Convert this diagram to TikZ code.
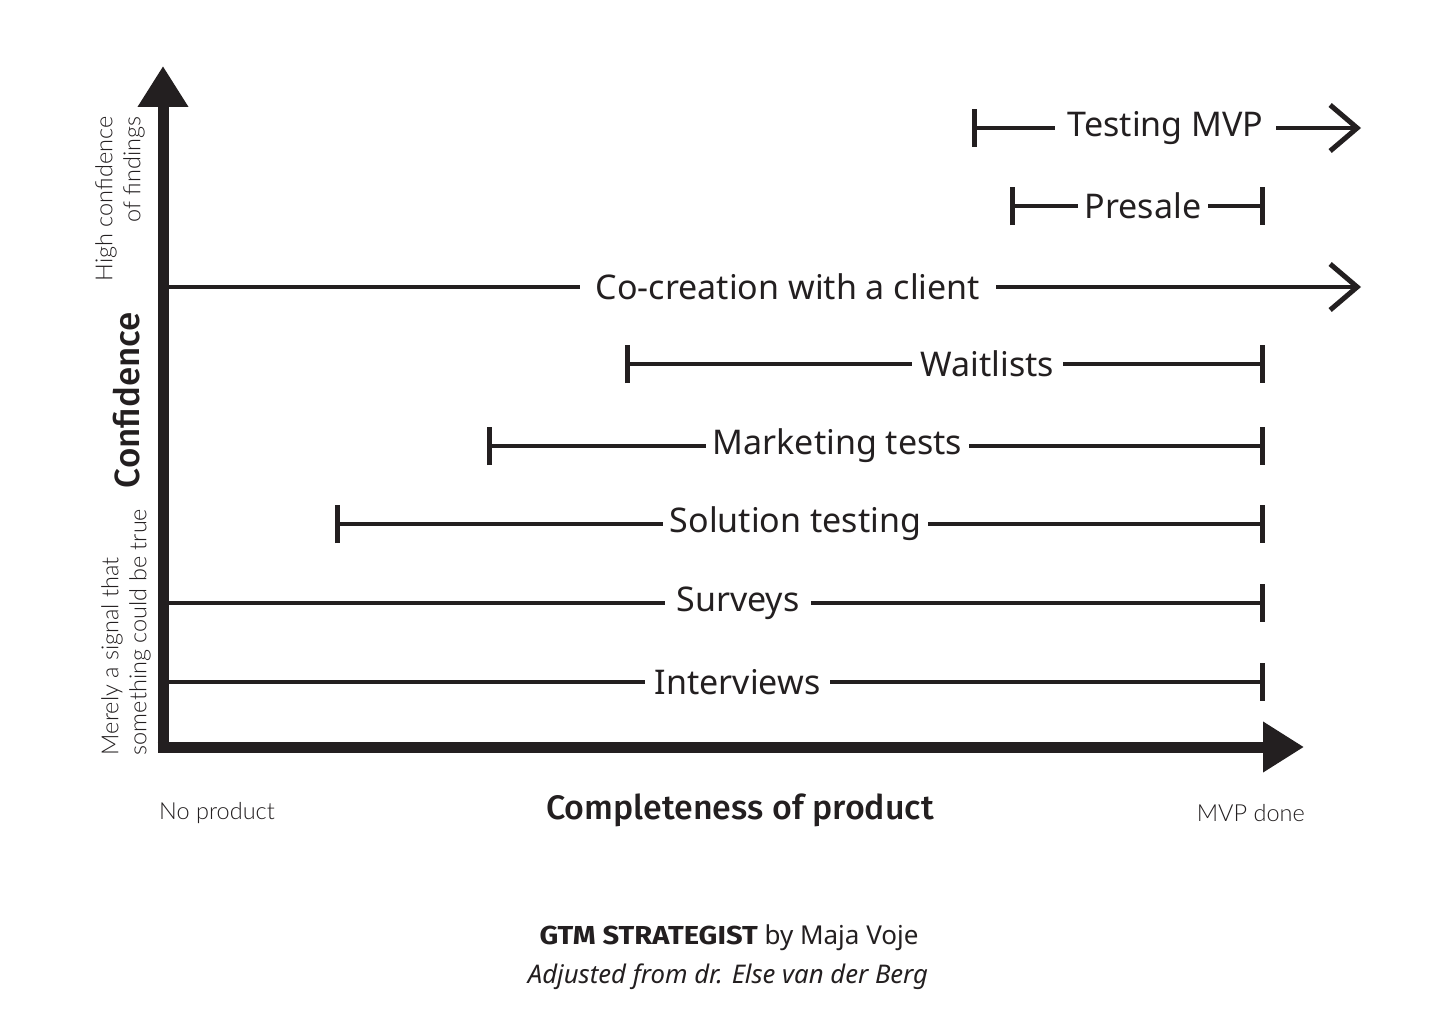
\documentclass[tikz,border=0pt]{standalone}
\usepackage{fontspec}
\setmainfont{Noto Sans}
\newfontfamily\lightfont{Lato}[UprightFont=* Light]
\newfontfamily\medfont{Fira Sans}[UprightFont={* Medium}]
\newfontfamily\heavyfont{Fira Sans}[UprightFont={* Bold}, FakeStretch=1.12]
\usetikzlibrary{arrows.meta}
\definecolor{ink}{HTML}{231F20}
\begin{document}
\begin{tikzpicture}[x=1pt,y=-1pt,
  bar/.style={draw=ink,line width=4pt},
  lab/.style={font=\fontsize{34}{40}\selectfont, text=ink, inner sep=0pt, minimum height=40pt},
  endbar/.style={-{Bar[width=38pt,line width=5pt]}},
  startbar/.style={{Bar[width=38pt,line width=5pt]}-},
  chev/.style={-{Straight Barb[length=27pt,width=46pt,line width=5pt]}},
  small/.style={font=\lightfont\fontsize{23.5}{28}\selectfont, text=ink, inner sep=0pt},
  axis/.style={draw=ink, line width=11pt, -{Triangle[length=41pt,width=48pt]}}
]
\useasboundingbox (0,0) rectangle (1456,1022);
\fill[white] (0,0) rectangle (1456,1022);

% axes
\coordinate (Ybot) at (163,752.5);
\coordinate (Ytop) at (163,66);
\coordinate (Xbeg) at (157.5,747);
\coordinate (Xend) at (1304,747);
\draw[axis] (Ybot) -- (Ytop);
\draw[axis] (Xbeg) -- (Xend);

% Interviews
\coordinate (i0) at (168,682); \coordinate (i1) at (1265,682);
\node[lab, minimum width=185pt] (il) at (737.5,682) {Interviews};
\draw[bar] (i0) -- (il);
\draw[bar, endbar] (il) -- (i1);

% Surveys
\coordinate (s0) at (168,603); \coordinate (s1) at (1265,603);
\node[lab, minimum width=146pt] (sl) at (738,603) {Surveys};
\draw[bar] (s0) -- (sl);
\draw[bar, endbar] (sl) -- (s1);

% Solution testing
\coordinate (t0) at (335,524); \coordinate (t1) at (1265,524);
\node[lab, minimum width=265pt] (tl) at (795.5,524) {Solution testing};
\draw[bar, startbar] (t0) -- (tl);
\draw[bar, endbar] (tl) -- (t1);

% Marketing tests
\coordinate (m0) at (487,446); \coordinate (m1) at (1265,446);
\node[lab, minimum width=263pt] (ml) at (837.5,446) {Marketing tests};
\draw[bar, startbar] (m0) -- (ml);
\draw[bar, endbar] (ml) -- (m1);

% Waitlists
\coordinate (w0) at (625,364); \coordinate (w1) at (1265,364);
\node[lab, minimum width=151pt] (wl) at (987.5,364) {Waitlists};
\draw[bar, startbar] (w0) -- (wl);
\draw[bar, endbar] (wl) -- (w1);

% Co-creation
\coordinate (c0) at (168,287); \coordinate (c1) at (1361,287);
\node[lab, minimum width=416pt] (cl) at (788,287) {Co-creation with a client};
\draw[bar] (c0) -- (cl);
\draw[bar, chev] (cl) -- (c1);

% Presale
\coordinate (p0) at (1010,206); \coordinate (p1) at (1265,206);
\node[lab, minimum width=130pt] (pl) at (1143,206) {Presale};
\draw[bar, startbar] (p0) -- (pl);
\draw[bar, endbar] (pl) -- (p1);

% Testing MVP
\coordinate (v0) at (972,128); \coordinate (v1) at (1361,128);
\node[lab, minimum width=221pt] (vl) at (1165.5,128) {Testing MVP};
\draw[bar, startbar] (v0) -- (vl);
\draw[bar, chev] (vl) -- (v1);

% axis labels
\node[rotate=90, font=\medfont\fontsize{35}{40}\selectfont, text=ink, inner sep=0pt] (conf) at (127,400) {Confidence};
\node[small, rotate=90, align=right] (high) at (120,199) {High confidence\\of findings};
\node[small, rotate=90, align=left] (low) at (126,632) {Merely a signal that\\something could be true};
\node[small, anchor=west] (nop) at (159,813) {No product};
\node[small, anchor=east] (mvpd) at (1305,813) {MVP done};
\node[font=\medfont\fontsize{34}{40}\selectfont, text=ink, inner sep=0pt] (xlab) at (740,810) {Completeness of product};

% footer
\node[font=\fontsize{26}{30}\selectfont, text=ink, inner sep=0pt] (foot1) at (729,938) {{\heavyfont GTM STRATEGIST} by Maja Voje};
\node[font=\itshape\fontsize{25.7}{30}\selectfont, text=ink, inner sep=0pt] (foot2) at (728,977) {Adjusted from dr. Else van der Berg};
\end{tikzpicture}
\end{document}
